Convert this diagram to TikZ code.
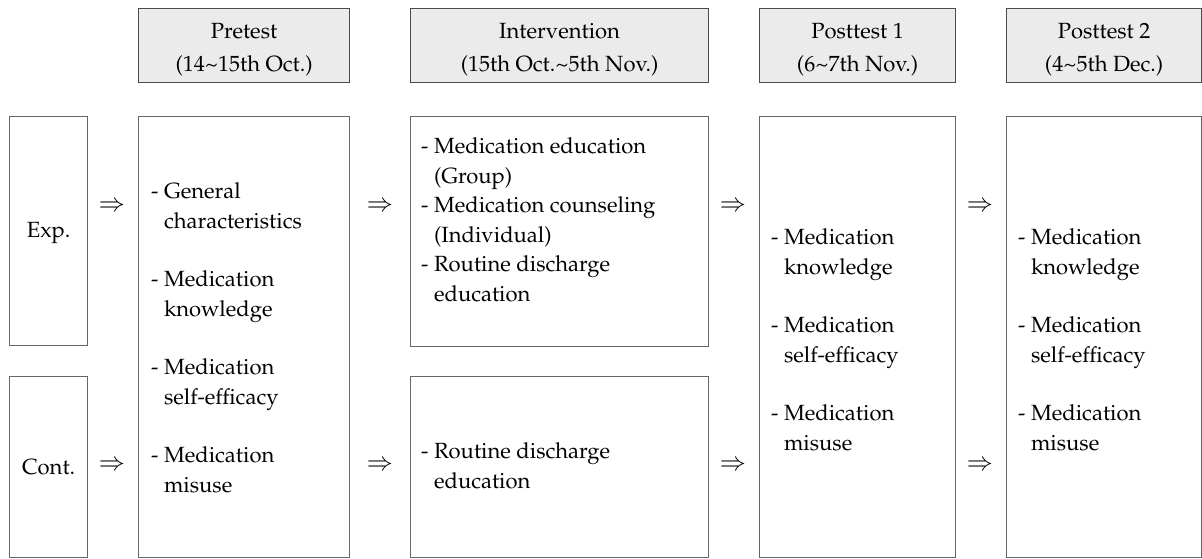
\documentclass[tikz,border=0pt]{standalone}
\usepackage[T1]{fontenc}
\usepackage{mathpazo}
\newcommand{\bfnt}{\fontsize{22}{29.5}\selectfont}
\newcommand{\hfnt}{\fontsize{22}{33}\selectfont}
\newcommand{\afnt}{\fontsize{25}{29.5}\selectfont}
\newcommand{\ind}{\phantom{- }}
\begin{document}
\begin{tikzpicture}[x=1pt,y=-1pt,
  hdr/.style={draw=black!70, line width=1.2pt, fill=black!8, inner sep=0pt, anchor=north west, minimum height=74pt},
  htxt/.style={font=\hfnt, align=center, inner sep=0pt},
  box/.style={draw=black!60, line width=1.3pt, inner sep=0pt, anchor=north west},
  txt/.style={font=\bfnt, align=left, inner sep=0pt, anchor=west},
  arr/.style={font=\afnt, inner sep=0pt}]
\useasboundingbox (0,0) rectangle (1202,558);

% headers
\node[hdr, minimum width=211pt] (hpre) at (138,8) {};
\node[htxt] (thpre) at ([yshift=-4pt]hpre.center) {Pretest\\(14\textasciitilde15th Oct.)};
\node[hdr, minimum width=298pt] (hint) at (410,8) {};
\node[htxt] (thint) at ([yshift=-4pt]hint.center) {Intervention\\(15th Oct.\textasciitilde5th Nov.)};
\node[hdr, minimum width=196pt] (hp1) at (759,8) {};
\node[htxt] (thp1) at ([yshift=-4pt]hp1.center) {Posttest 1\\(6\textasciitilde7th Nov.)};
\node[hdr, minimum width=195pt] (hp2) at (1006,8) {};
\node[htxt] (thp2) at ([yshift=-4pt]hp2.center) {Posttest 2\\(4\textasciitilde5th Dec.)};

% boxes
\node[box, minimum width=78pt, minimum height=229pt] (exp) at (9,116) {};
\node[box, minimum width=78pt, minimum height=181pt] (cont) at (9,376) {};
\node[box, minimum width=211pt, minimum height=441pt] (pre) at (138,116) {};
\node[box, minimum width=298pt, minimum height=230pt] (inte) at (410,116) {};
\node[box, minimum width=298pt, minimum height=181pt] (intc) at (410,376) {};
\node[box, minimum width=196pt, minimum height=441pt] (p1) at (759,116) {};
\node[box, minimum width=195pt, minimum height=441pt] (p2) at (1006,116) {};

% group labels
\node[font=\bfnt] (lexp) at ([yshift=-2pt]exp.center) {Exp.};
\node[font=\bfnt] (lcont) at (cont.center) {Cont.};

% texts
\node[txt] (tpre) at (151,338) {- General\\\ind characteristics\\[29pt]- Medication\\\ind knowledge\\[29pt]- Medication\\\ind self-efficacy\\[29pt]- Medication\\\ind misuse};
\node[txt] (tinte) at (421,220) {- Medication education\\\ind(Group)\\- Medication counseling\\\ind(Individual)\\- Routine discharge\\\ind education};
\node[txt] (tintc) at (421,466) {- Routine discharge\\\ind education};
\node[txt] (tp1) at (771,340) {- Medication\\\ind knowledge\\[29pt]- Medication\\\ind self-efficacy\\[29pt]- Medication\\\ind misuse};
\node[txt] (tp2) at (1018,340) {- Medication\\\ind knowledge\\[29pt]- Medication\\\ind self-efficacy\\[29pt]- Medication\\\ind misuse};

% arrows
\node[arr] (a1) at (112,207) {$\Rightarrow$};
\node[arr] (a2) at (380,207) {$\Rightarrow$};
\node[arr] (a3) at (733,207) {$\Rightarrow$};
\node[arr] (a4) at (980,207) {$\Rightarrow$};
\node[arr] (b1) at (112,466) {$\Rightarrow$};
\node[arr] (b2) at (380,466) {$\Rightarrow$};
\node[arr] (b3) at (733,466) {$\Rightarrow$};
\node[arr] (b4) at (980,466) {$\Rightarrow$};
\end{tikzpicture}
\end{document}
